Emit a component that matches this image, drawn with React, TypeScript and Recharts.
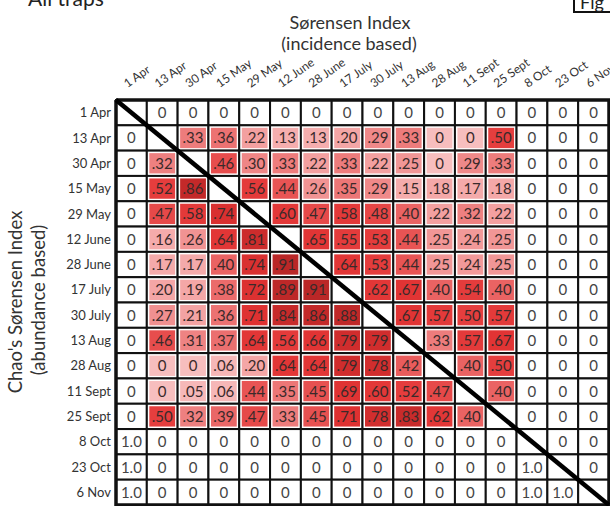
import { ScatterChart, Scatter, XAxis, YAxis } from 'recharts'

const dates = [
  '1 Apr', '13 Apr', '30 Apr', '15 May', '29 May', '12 June', '28 June', '17 July',
  '30 July', '13 Aug', '28 Aug', '11 Sept', '25 Sept', '8 Oct', '23 Oct', '6 Nov',
]

// row = Chao's Sørensen (below diagonal), column = Sørensen incidence (above diagonal); null = diagonal
const rowApr1 = [null, 0, 0, 0, 0, 0, 0, 0, 0, 0, 0, 0, 0, 0, 0, 0]
const rowApr13 = [0, null, 0.33, 0.36, 0.22, 0.13, 0.13, 0.2, 0.29, 0.33, 0, 0, 0.5, 0, 0, 0]
const rowApr30 = [0, 0.32, null, 0.46, 0.3, 0.33, 0.22, 0.33, 0.22, 0.25, 0, 0.29, 0.33, 0, 0, 0]
const rowMay15 = [0, 0.52, 0.86, null, 0.56, 0.44, 0.26, 0.35, 0.29, 0.15, 0.18, 0.17, 0.18, 0, 0, 0]
const rowMay29 = [0, 0.47, 0.58, 0.74, null, 0.6, 0.47, 0.58, 0.48, 0.4, 0.22, 0.32, 0.22, 0, 0, 0]
const rowJun12 = [0, 0.16, 0.26, 0.64, 0.81, null, 0.65, 0.55, 0.53, 0.44, 0.25, 0.24, 0.25, 0, 0, 0]
const rowJun28 = [0, 0.17, 0.17, 0.4, 0.74, 0.91, null, 0.64, 0.53, 0.44, 0.25, 0.24, 0.25, 0, 0, 0]
const rowJul17 = [0, 0.2, 0.19, 0.38, 0.72, 0.89, 0.91, null, 0.62, 0.67, 0.4, 0.54, 0.4, 0, 0, 0]
const rowJul30 = [0, 0.27, 0.21, 0.36, 0.71, 0.84, 0.86, 0.88, null, 0.67, 0.57, 0.5, 0.57, 0, 0, 0]
const rowAug13 = [0, 0.46, 0.31, 0.37, 0.64, 0.56, 0.66, 0.79, 0.79, null, 0.33, 0.57, 0.67, 0, 0, 0]
const rowAug28 = [0, 0, 0, 0.06, 0.2, 0.64, 0.64, 0.79, 0.78, 0.42, null, 0.4, 0.5, 0, 0, 0]
const rowSep11 = [0, 0, 0.05, 0.06, 0.44, 0.35, 0.45, 0.69, 0.6, 0.52, 0.47, null, 0.4, 0, 0, 0]
const rowSep25 = [0, 0.5, 0.32, 0.39, 0.47, 0.33, 0.45, 0.71, 0.78, 0.83, 0.62, 0.4, null, 0, 0, 0]
const rowOct8 = [1, 0, 0, 0, 0, 0, 0, 0, 0, 0, 0, 0, 0, null, 0, 0]
const rowOct23 = [1, 0, 0, 0, 0, 0, 0, 0, 0, 0, 0, 0, 0, 1, null, 0]
const rowNov6 = [1, 0, 0, 0, 0, 0, 0, 0, 0, 0, 0, 0, 0, 1, 1, null]

const rows = [
  rowApr1, rowApr13, rowApr30, rowMay15, rowMay29, rowJun12, rowJun28, rowJul17,
  rowJul30, rowAug13, rowAug28, rowSep11, rowSep25, rowOct8, rowOct23, rowNov6,
]

// shaded block: sampling dates 13 Apr .. 25 Sept
const shadedFrom = 1
const shadedTo = 12

const FONT = 'Lato, "Open Sans", sans-serif'
const W = 610
const H = 506
const PLOT_LEFT = 116
const PLOT_TOP = 100
const PLOT_W = 493
const PLOT_H = 405
const CELL_W = PLOT_W / dates.length
const CELL_H = PLOT_H / dates.length

const lo = -0.5
const hi = dates.length - 0.5
const diagonal = [{ x: lo, y: lo }, { x: hi, y: hi }]
const frame = [
  { x: lo, y: lo }, { x: hi, y: lo }, { x: hi, y: hi }, { x: lo, y: hi }, { x: lo, y: lo },
]

const stops: [number, number[]][] = [
  [0, [247, 190, 190]],
  [0.2, [244, 166, 166]],
  [0.35, [236, 118, 118]],
  [0.5, [229, 62, 62]],
  [0.7, [224, 50, 50]],
  [0.92, [184, 38, 38]],
]

function heat(v: number) {
  for (let i = 1; i < stops.length; i++) {
    if (v <= stops[i][0]) {
      const [a, ca] = stops[i - 1]
      const [b, cb] = stops[i]
      const t = (v - a) / (b - a)
      const c = ca.map((k, j) => Math.round(k + (cb[j] - k) * t))
      return `rgb(${c[0]},${c[1]},${c[2]})`
    }
  }
  const c = stops[stops.length - 1][1]
  return `rgb(${c[0]},${c[1]},${c[2]})`
}

function fmt(v: number) {
  if (v >= 1) return '1.0'
  if (v === 0) return '0'
  return v.toFixed(2).replace(/^0/, '')
}

const cells = rows.flatMap((r, y) =>
  r.map((v, x) => ({ x, y, v }))
)

const CellShape = (props: any) => {
  const { cx, cy, payload } = props
  const { x, y, v } = payload
  const left = cx - CELL_W / 2
  const top = cy - CELL_H / 2
  const shaded =
    v !== null && x >= shadedFrom && x <= shadedTo && y >= shadedFrom && y <= shadedTo
  return (
    <g>
      <rect x={left} y={top} width={CELL_W} height={CELL_H} fill="#fff" stroke="#111" strokeWidth={2} />
      {shaded && (
        <rect x={left + 2.5} y={top + 2.5} width={CELL_W - 5} height={CELL_H - 5} fill={heat(v)} />
      )}
      {v !== null && (
        <text
          x={cx}
          y={cy + 5.5}
          textAnchor="middle"
          fontSize={15}
          fontFamily={FONT}
          fill={shaded ? '#3a2a2a' : '#444'}
        >
          {fmt(v)}
        </text>
      )}
    </g>
  )
}

const ColTick = (props: any) => {
  const { x, y, payload } = props
  const tx = x - 4
  return (
    <text
      x={tx}
      y={y}
      transform={`rotate(-35, ${tx}, ${y})`}
      fontSize={12}
      fontFamily={FONT}
      fill="#333"
    >
      {dates[payload.value]}
    </text>
  )
}

const noDot = () => <g />

const idx = dates.map((_, i) => i)

export default function App() {
  return (
    <div style={{ position: 'absolute', left: 0, top: 0, width: W, height: H, background: '#fff', overflow: 'hidden' }}>
      <ScatterChart width={W} height={H} margin={{ top: 0, right: W - PLOT_LEFT - PLOT_W, bottom: H - PLOT_TOP - PLOT_H, left: 0 }}>
        <XAxis
          type="number"
          dataKey="x"
          orientation="top"
          domain={[lo, hi]}
          ticks={idx}
          interval={0}
          height={PLOT_TOP}
          axisLine={false}
          tickLine={false}
          tickSize={0}
          tickMargin={12}
          tick={<ColTick />}
        />
        <YAxis
          type="number"
          dataKey="y"
          reversed
          domain={[lo, hi]}
          ticks={idx}
          interval={0}
          width={PLOT_LEFT}
          axisLine={false}
          tickLine={false}
          tickSize={0}
          tickMargin={5}
          tickFormatter={(i: number) => dates[i]}
          tick={{ fontSize: 13, fill: '#333', fontFamily: FONT }}
        />
        <Scatter data={cells} shape={<CellShape />} isAnimationActive={false} />
        <Scatter
          data={frame}
          shape={noDot}
          line={{ stroke: '#111', strokeWidth: 3.5 }}
          lineType="joint"
          isAnimationActive={false}
        />
        <Scatter
          data={diagonal}
          shape={noDot}
          line={{ stroke: '#000', strokeWidth: 4.5 }}
          lineType="joint"
          isAnimationActive={false}
        />
      </ScatterChart>
      <svg width={W} height={H} style={{ position: 'absolute', left: 0, top: 0, pointerEvents: 'none' }}>
        <text x={28} y={6} fontSize={21} fontFamily={FONT} fill="#222">All traps</text>
        <rect x={574} y={-10} width={46} height={22} fill="#fff" stroke="#111" strokeWidth={2} />
        <text x={580} y={9} fontSize={18} fontFamily={FONT} fill="#222">Fig</text>
        <text x={350} y={29} textAnchor="middle" fontSize={18} fontFamily={FONT} fill="#333">Sørensen Index</text>
        <text x={349} y={50} textAnchor="middle" fontSize={18} fontFamily={FONT} fill="#333">(incidence  based)</text>
        <text x={0} y={0} transform="translate(22, 302) rotate(-90)" textAnchor="middle" fontSize={18.5} fontFamily={FONT} fill="#333">
          Chao's Sørensen Index
        </text>
        <text x={0} y={0} transform="translate(45, 300) rotate(-90)" textAnchor="middle" fontSize={18.5} fontFamily={FONT} fill="#333">
          (abundance based)
        </text>
      </svg>
    </div>
  )
}
